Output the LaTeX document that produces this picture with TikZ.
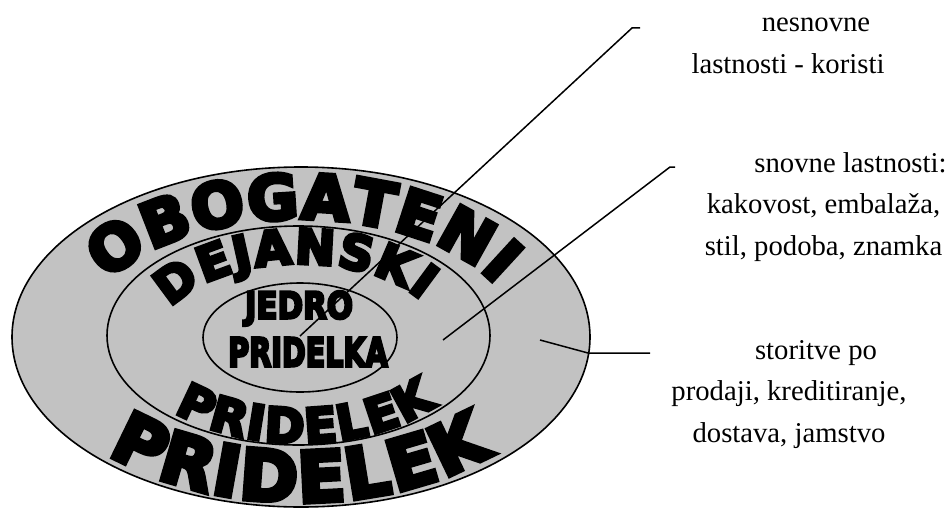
\documentclass[tikz,border=0pt]{standalone}
\usepackage{fontspec}
\usepackage{graphicx}
\setmainfont{Liberation Serif}
\newfontfamily\heavyfont[FakeBold=7]{DejaVu Sans Bold}
\usetikzlibrary{decorations.text,calc}
\newcommand\labfont{\fontsize{14.35}{20.6}\selectfont}
\newcommand\obogfont{\heavyfont\fontsize{31}{32}\selectfont}
\newcommand\bigpridfont{\heavyfont\fontsize{35}{36}\selectfont}
\newcommand\dejfont{\heavyfont\fontsize{24}{25}\selectfont}
\newcommand\pridfont{\heavyfont\fontsize{24}{25}\selectfont}
\newcommand\corefont{\heavyfont\fontsize{15.4}{16}\selectfont}
\newcommand\kafont{\heavyfont\fontsize{14.3}{15}\selectfont}
\tikzset{
  ring/.style={draw=black, line width=0.8pt, fill=gray!48},
  arctext/.style={decorate, decoration={text along path, text={#1}, text align={fit to path}}},
  lab/.style={font=\labfont, align=center, inner sep=0pt, anchor=base},
  core/.style={inner sep=0pt},
  lead/.style={line width=0.75pt},
}
\begin{document}
\begin{tikzpicture}[x=0.5pt, y=0.5pt]
  \useasboundingbox (0,0) rectangle (952,510);
  \coordinate (c) at (300,173);
  % the three rings
  \draw[ring] (301,173) ellipse [x radius=289, y radius=170];
  \draw[ring] (298.5,174.5) ellipse [x radius=191.5, y radius=109.5];
  \draw[ring] (300,172.5) ellipse [x radius=97, y radius=54.5];
  % words round the rings
  \path[arctext={|\obogfont|OBOGATENI}] ($(c)+(152:218 and 118)$) arc[start angle=152, end angle=26, x radius=218, y radius=118];
  \path[arctext={|\bigpridfont|PRIDELEK}] ($(c)+(225:272 and 165)$) arc[start angle=225, end angle=315, x radius=272, y radius=165];
  \path[arctext={|\dejfont|DEJANSKI}] ($(c)+(157:140 and 73)$) arc[start angle=157, end angle=30, x radius=140, y radius=73];
  \path[arctext={|\pridfont|PRIDELEK}] ($(c)+(225:178 and 106)$) arc[start angle=225, end angle=320, x radius=178, y radius=106];
  \node[core, font=\corefont] (jedro) at (299,201.5) {\scalebox{1}[1.2]{JEDRO}};
  \node[core, font=\kafont] (pridelka) at (308,158) {\scalebox{1}[1.38]{PRIDELKA}};
  % labels
  \node[lab] (nesn) at (788,437) {\hspace*{28pt}nesnovne\\lastnosti - koristi};
  \node[lab] (snov) at (823.5,255) {\hspace*{27pt}snovne lastnosti:\\kakovost, embalaža,\\stil, podoba, znamka};
  \node[lab] (stor) at (789,68) {\hspace*{27pt}storitve po\\prodaji, kreditiranje,\\dostava, jamstvo};
  % leaders
  \coordinate (nesTick) at (640,482);
  \coordinate (nesEnd) at (300,174);
  \coordinate (snoTick) at (675,343);
  \coordinate (snoEnd) at (443,170);
  \coordinate (stoTick) at (650,157);
  \coordinate (stoEnd) at (540,170);
  \draw[lead] (nesTick) -- ++(-8,0) -- (nesEnd);
  \draw[lead] (snoTick) -- ++(-5,0) -- (snoEnd);
  \draw[lead] (stoTick) -- ++(-62,0) -- (stoEnd);
\end{tikzpicture}
\end{document}
